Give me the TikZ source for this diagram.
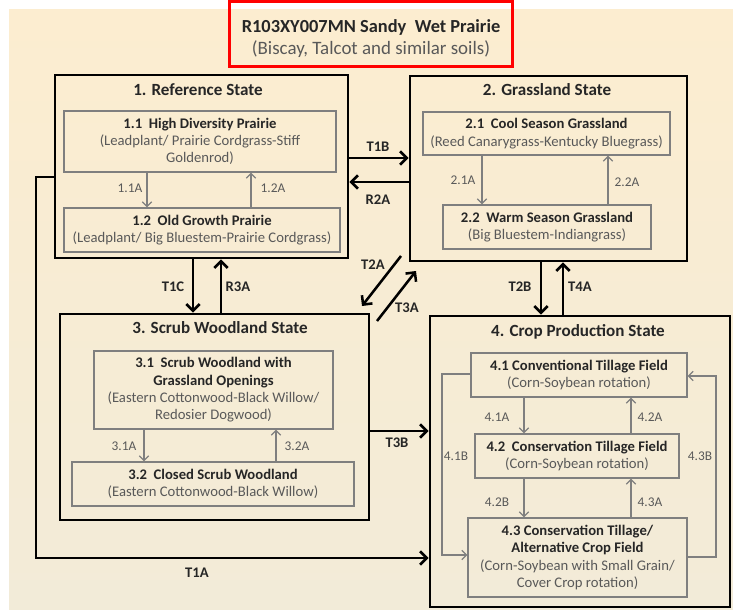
\documentclass[tikz,border=0pt]{standalone}
\usepackage{fontspec}
\setmainfont{Carlito}
\usetikzlibrary{arrows.meta,fit,calc}
\definecolor{bgtop}{HTML}{FCEDD0}
\definecolor{bgbot}{HTML}{F2EBD8}
\definecolor{txtdark}{HTML}{262626}
\definecolor{txtgray}{HTML}{595959}
\definecolor{boxgray}{HTML}{7F7F7F}
\newcommand{\bt}[1]{\textcolor{txtdark}{\textbf{#1}}}
\begin{document}
\begin{tikzpicture}[x=0.75pt,y=-0.75pt,
 statebox/.style={draw=black, line width=2.2pt, inner sep=0pt},
 innerbox/.style={draw=boxgray, line width=0.9pt, inner sep=0pt},
 innertext/.style={inner sep=0pt, align=center, text=txtgray, font=\fontsize{11}{13}\selectfont},
 stitle/.style={font=\bfseries\fontsize{12.8}{14}\selectfont, text=txtdark},
 bigarrow/.style={line width=1.9pt, -{Straight Barb[length=5pt,width=10pt]}},
 thinline/.style={draw=boxgray, line width=0.9pt},
 thinarrow/.style={thinline, -{Straight Barb[length=3.5pt,width=7pt]}},
 tlab/.style={font=\bfseries\fontsize{11}{12}\selectfont, text=txtdark},
 slab/.style={font=\fontsize{10}{11}\selectfont, text=txtgray},
]
\useasboundingbox (0,0) rectangle (733,610);
\fill[white] (0,0) rectangle (733,610);
\shade[top color=bgtop,bottom color=bgbot] (9,10) rectangle (733,610);

% title
\node[draw=red, line width=2.3pt, inner sep=0pt, fit={(229.5,1.5) (512.5,66.5)}] (tbox) {};
\node[font=\bfseries\fontsize{13.8}{15}\selectfont, text=txtdark] (t1) at (371,27) {R103XY007MN Sandy\ \ Wet Prairie};
\node[font=\fontsize{14.2}{15}\selectfont, text=txtgray] (t2) at (371,49) {(Biscay, Talcot and similar soils)};

% state boxes
\node[statebox, fit={(55,75) (348,258)}] (s1) {};
\node[statebox, fit={(410,76) (687,261)}] (s2) {};
\node[statebox, fit={(60,314) (369,520)}] (s3) {};
\node[statebox, fit={(430,316) (730,607)}] (s4) {};

\node[stitle] (st1) at (198,90) {1. Reference State};
\node[stitle] (st2) at (547,90) {2. Grassland State};
\node[stitle] (st3) at (220,328) {3. Scrub Woodland State};
\node[stitle] (st4) at (578,332) {4. Crop Production State};

% inner boxes
\node[innerbox, fit={(64,111) (336,172)}] (b11) {};
\node[innerbox, fit={(64,208) (340,252)}] (b12) {};
\node[innerbox, fit={(423,112) (670,155)}] (b21) {};
\node[innerbox, fit={(443,205) (651,249)}] (b22) {};
\node[innerbox, fit={(94,351) (333,429)}] (b31) {};
\node[innerbox, fit={(72,462) (354,506)}] (b32) {};
\node[innerbox, fit={(471,353) (687,397)}] (b41) {};
\node[innerbox, fit={(475,434) (679,478)}] (b42) {};
\node[innerbox, fit={(468,518) (687,597)}] (b43) {};

\node[innertext] (n11) at (b11.center) {\bt{1.1\ \ High Diversity Prairie}\\(Leadplant/ Prairie Cordgrass-Stiff\\Goldenrod)};
\node[innertext] (n12) at (b12.center) {\bt{1.2\ \ Old Growth Prairie}\\(Leadplant/ Big Bluestem-Prairie Cordgrass)};
\node[innertext] (n21) at (b21.center) {\bt{2.1\ \ Cool Season Grassland}\\(Reed Canarygrass-Kentucky Bluegrass)};
\node[innertext] (n22) at (b22.center) {\bt{2.2\ \ Warm Season Grassland}\\(Big Bluestem-Indiangrass)};
\node[innertext] (n31) at (b31.center) {\bt{3.1\ \ Scrub Woodland with}\\\bt{Grassland Openings}\\(Eastern Cottonwood-Black Willow/\\Redosier Dogwood)};
\node[innertext] (n32) at (b32.center) {\bt{3.2\ \ Closed Scrub Woodland}\\(Eastern Cottonwood-Black Willow)};
\node[innertext] (n41) at (b41.center) {\bt{4.1 Conventional Tillage Field}\\(Corn-Soybean rotation)};
\node[innertext] (n42) at (b42.center) {\bt{4.2\ \ Conservation Tillage Field}\\(Corn-Soybean rotation)};
\node[innertext] (n43) at (b43.center) {\bt{4.3 Conservation Tillage/}\\\bt{Alternative Crop Field}\\(Corn-Soybean with Small Grain/\\Cover Crop rotation)};

% helper coordinates
\coordinate (x147) at (147,0);
\coordinate (x251) at (251,0);
\coordinate (x482) at (482,0);
\coordinate (x608) at (608,0);
\coordinate (x144) at (144,0);
\coordinate (x276) at (276,0);
\coordinate (x524) at (524,0);
\coordinate (x631) at (631,0);
\coordinate (x193) at (193,0);
\coordinate (x221) at (221,0);
\coordinate (x541) at (541,0);
\coordinate (x563) at (563,0);
\coordinate (y160) at (0,158);
\coordinate (y182) at (0,182);
\coordinate (y431) at (0,431);
\coordinate (c1) at (36,177);
\coordinate (c2) at (36,558);
\coordinate (d1) at (442,374);
\coordinate (d2) at (442,555);
\coordinate (e1) at (716,557);
\coordinate (e2) at (716,376);
\coordinate (t2a1) at (401,256);
\coordinate (t2a2) at (362,306);
\coordinate (t3a1) at (377,321);
\coordinate (t3a2) at (416,271);

% inner arrows
\draw[thinarrow] (b11.south -| x147) -- (b12.north -| x147);
\draw[thinarrow] (b12.north -| x251) -- (b11.south -| x251);
\draw[thinarrow] (b21.south -| x482) -- (b22.north -| x482);
\draw[thinarrow] (b22.north -| x608) -- (b21.south -| x608);
\draw[thinarrow] (b31.south -| x144) -- (b32.north -| x144);
\draw[thinarrow] (b32.north -| x276) -- (b31.south -| x276);
\draw[thinarrow] (b41.south -| x524) -- (b42.north -| x524);
\draw[thinarrow] (b42.north -| x631) -- (b41.south -| x631);
\draw[thinarrow] (b42.south -| x524) -- (b43.north -| x524);
\draw[thinarrow] (b43.north -| x631) -- (b42.south -| x631);
\draw[thinarrow] (b41.west |- d1) -- (d1) -- (d2) -- (b43.west |- d2);
\draw[thinarrow] (b43.east |- e1) -- (e1) -- (e2) -- (b41.east |- e2);

% inner labels
\node[slab] (l11a) at (130,188) {1.1A};
\node[slab] (l12a) at (273,188) {1.2A};
\node[slab] (l21a) at (463,180) {2.1A};
\node[slab] (l22a) at (627,182) {2.2A};
\node[slab] (l31a) at (124,446) {3.1A};
\node[slab] (l32a) at (297,446) {3.2A};
\node[slab] (l41a) at (497,417) {4.1A};
\node[slab] (l42a) at (650,417) {4.2A};
\node[slab] (l42b) at (497,502) {4.2B};
\node[slab] (l43a) at (650,502) {4.3A};
\node[slab] (l41b) at (456,456) {4.1B};
\node[slab] (l43b) at (700,456) {4.3B};

% state transitions
\draw[bigarrow] (s1.east |- y160) -- (s2.west |- y160);
\draw[bigarrow] (s2.west |- y182) -- (s1.east |- y182);
\draw[bigarrow] (s1.south -| x193) -- (s3.north -| x193);
\draw[bigarrow] (s3.north -| x221) -- (s1.south -| x221);
\draw[bigarrow] (s2.south -| x541) -- (s4.north -| x541);
\draw[bigarrow] (s4.north -| x563) -- (s2.south -| x563);
\draw[bigarrow] (s3.east |- y431) -- (s4.west |- y431);
\draw[bigarrow] (s1.west |- c1) -- (c1) -- (c2) -- (s4.west |- c2);
\draw[bigarrow] (t2a1) -- (t2a2);
\draw[bigarrow] (t3a1) -- (t3a2);

\node[tlab] (lt1b) at (378,147) {T1B};
\node[tlab] (lr2a) at (378,200) {R2A};
\node[tlab] (lt1c) at (173,287) {T1C};
\node[tlab] (lr3a) at (238,287) {R3A};
\node[tlab] (lt2a) at (373,265) {T2A};
\node[tlab] (lt3a) at (407,308) {T3A};
\node[tlab] (lt2b) at (520,287) {T2B};
\node[tlab] (lt4a) at (580,287) {T4A};
\node[tlab] (lt3b) at (397,443) {T3B};
\node[tlab] (lt1a) at (197,573) {T1A};
\end{tikzpicture}
\end{document}
